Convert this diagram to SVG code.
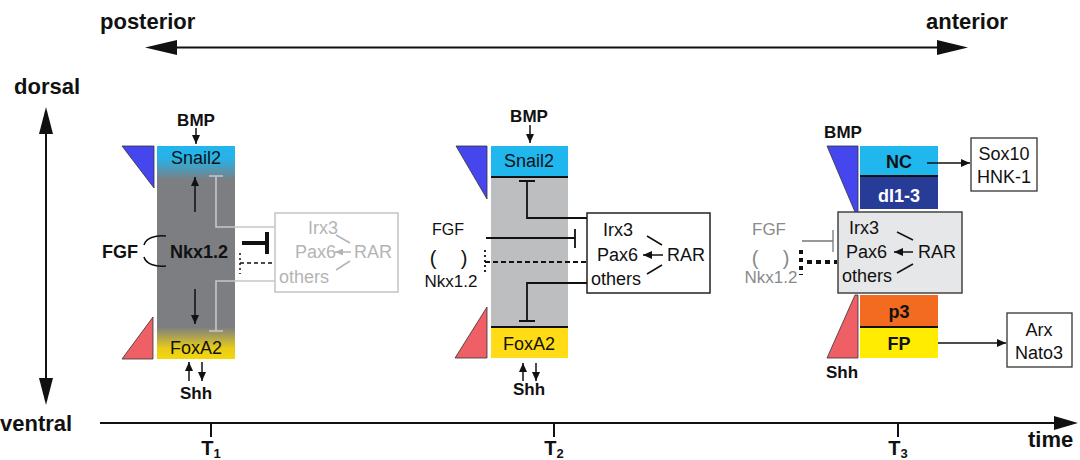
<svg xmlns="http://www.w3.org/2000/svg" width="1080" height="460" viewBox="0 0 1080 460">
<style>
text{font-family:"Liberation Sans",Arial,sans-serif;}
.ax{font-size:22px;font-weight:bold;fill:#111;}
.b{font-size:17px;font-weight:bold;fill:#111;}
.bl{font-size:18px;font-weight:bold;fill:#111;}
.r{font-size:18px;fill:#111;}
.g{font-size:18px;fill:#b4b4b4;}
.g2{font-size:17px;fill:#8a8a8a;}
.c{text-anchor:middle;}
.ln{stroke:#111;stroke-width:1.8;fill:none;}
.lg{stroke:#c6c6c6;stroke-width:1.6;fill:none;}
.ar{stroke:#111;stroke-width:1.5;fill:none;marker-end:url(#ah);}
.arg{stroke:#b4b4b4;stroke-width:1.5;fill:none;marker-end:url(#ahg);}
.tri{stroke:#333;stroke-width:0.8;}
</style>
<defs>
<marker id="ah" markerUnits="userSpaceOnUse" markerWidth="9" markerHeight="8" refX="9" refY="4" orient="auto"><path d="M0,0 L9,4 L0,8 z" fill="#111"/></marker>
<marker id="ahg" markerUnits="userSpaceOnUse" markerWidth="8" markerHeight="7" refX="8" refY="3.5" orient="auto"><path d="M0,0 L8,3.5 L0,7 z" fill="#b4b4b4"/></marker>
<linearGradient id="lg1" x1="0" y1="0" x2="0" y2="1">
<stop offset="0" stop-color="#22b6ee"/>
<stop offset="0.06" stop-color="#27b2e6"/>
<stop offset="0.16" stop-color="#7c7e82"/>
<stop offset="0.85" stop-color="#7c7e82"/>
<stop offset="0.95" stop-color="#e8cc18"/>
<stop offset="1" stop-color="#f4d60c"/>
</linearGradient>
</defs>

<g id="axes">
<text class="ax" x="100" y="29">posterior</text>
<text class="ax" x="926" y="29">anterior</text>
<line x1="175" y1="47.5" x2="940" y2="47.5" stroke="#111" stroke-width="2"/>
<polygon points="145,47.5 177,40 177,55" fill="#111"/>
<polygon points="968,47.5 937,40 937,55" fill="#111"/>
<text class="ax" x="14" y="94">dorsal</text>
<line x1="46" y1="130" x2="46" y2="383" stroke="#111" stroke-width="2"/>
<polygon points="46,107 39,134 53,134" fill="#111"/>
<polygon points="46,405 39,378 53,378" fill="#111"/>
<text class="ax" x="0" y="431">ventral</text>
<line x1="100" y1="423" x2="1058" y2="423" stroke="#111" stroke-width="2"/>
<polygon points="1078,423 1054,416 1054,430" fill="#111"/>
<line x1="211" y1="423" x2="211" y2="437" stroke="#111" stroke-width="2"/>
<line x1="554" y1="423" x2="554" y2="437" stroke="#111" stroke-width="2"/>
<line x1="898" y1="423" x2="898" y2="437" stroke="#111" stroke-width="2"/>
<text class="ax c" x="211" y="455" style="font-size:20px">T<tspan font-size="13" dy="3">1</tspan></text>
<text class="ax c" x="554" y="455" style="font-size:20px">T<tspan font-size="13" dy="3">2</tspan></text>
<text class="ax c" x="898" y="455" style="font-size:20px">T<tspan font-size="13" dy="3">3</tspan></text>
<text class="ax" x="1028" y="447">time</text>
</g>

<g id="panel-T1">
<text class="b c" x="196" y="126">BMP</text>
<polygon class="tri" points="122,146 154,146 154,188" fill="#4646ee"/>
<polygon class="tri" points="122,359 153,359 153,317" fill="#ef5f66"/>
<rect x="157" y="146" width="78" height="213" fill="url(#lg1)"/>
<text class="r c" x="196" y="164" fill="#1c2a38">Snail2</text>
<text class="r c" x="196" y="354">FoxA2</text>
<text class="bl c" x="199" y="258">Nkx1.2</text>
<text class="bl c" x="120" y="258">FGF</text>
<path d="M144,245 C146,238 155,235 166,236 M144,257 C146,264 155,267 166,266" stroke="#111" stroke-width="1.6" fill="none"/>
<text class="b c" x="196" y="399">Shh</text>
</g>

<g id="box-T1">
<rect x="275" y="213" width="123" height="79" fill="none" stroke="#c3c3c3" stroke-width="1.5"/>
<text class="g" x="308" y="234">Irx3</text>
<text class="g" x="295" y="258">Pax6</text>
<text class="g" x="279" y="283">others</text>
<text class="g" x="354" y="258">RAR</text>
</g>

<g id="panel-T2">
<text class="b c" x="529" y="122">BMP</text>
<polygon class="tri" points="456,146 487,146 487,199" fill="#4646ee"/>
<polygon class="tri" points="455,358 487,358 487,307" fill="#ef5f66"/>
<rect x="491" y="146" width="77" height="31" fill="#20b6ee"/>
<rect x="491" y="177" width="77" height="150" fill="#bdbec0"/>
<rect x="491" y="327" width="77" height="31" fill="#ffdc16"/>
<line x1="491" y1="177" x2="568" y2="177" stroke="#111" stroke-width="2"/>
<line x1="491" y1="327" x2="568" y2="327" stroke="#111" stroke-width="2"/>
<text class="r c" x="529" y="167">Snail2</text>
<text class="r c" x="529" y="350">FoxA2</text>
<text class="r c" x="448" y="235" style="font-size:16px">FGF</text>
<text class="r c" x="433" y="265" style="font-size:20px">(</text>
<text class="r c" x="464" y="265" style="font-size:20px">)</text>
<text class="r c" x="451" y="287" style="font-size:17px">Nkx1.2</text>
<text class="b c" x="529" y="395">Shh</text>
</g>

<g id="box-T2">
<rect x="587" y="213" width="123" height="80" fill="#fff" stroke="#222" stroke-width="1.5"/>
<text class="r" x="603" y="236">Irx3</text>
<text class="r" x="597" y="261">Pax6</text>
<text class="r" x="591" y="285">others</text>
<text class="r" x="667" y="261">RAR</text>
</g>

<g id="panel-T3">
<text class="b c" x="843" y="138">BMP</text>
<polygon class="tri" points="827,146 858,146 858,212 855,212" fill="#4646ee"/>
<polygon class="tri" points="855,295 858,295 858,358 827,358" fill="#ef5f66"/>
<rect x="860" y="146" width="78" height="30" fill="#20b6ee"/>
<rect x="860" y="176" width="78" height="33" fill="#263c96"/>
<line x1="860" y1="176" x2="938" y2="176" stroke="#111" stroke-width="2"/>
<rect x="860" y="295" width="78" height="32" fill="#f26b21"/>
<rect x="860" y="327" width="78" height="31" fill="#ffec00"/>
<line x1="860" y1="327" x2="938" y2="327" stroke="#111" stroke-width="2"/>
<text class="bl c" x="899" y="168">NC</text>
<text class="bl c" x="899" y="202" style="fill:#fff">dI1-3</text>
<text class="bl c" x="899" y="318">p3</text>
<text class="bl c" x="899" y="350">FP</text>
<text class="g2 c" x="769" y="235">FGF</text>
<text class="g2 c" x="755" y="265" style="font-size:20px">(</text>
<text class="g2 c" x="786" y="265" style="font-size:20px">)</text>
<text class="g2 c" x="771" y="283">Nkx1.2</text>
<text class="b c" x="842" y="378">Shh</text>
</g>

<g id="box-T3">
<rect x="838" y="212" width="124" height="81" fill="#e6e7e8" stroke="#444" stroke-width="1.5"/>
<text class="r" x="849" y="234">Irx3</text>
<text class="r" x="846" y="258">Pax6</text>
<text class="r" x="842" y="282">others</text>
<text class="r" x="918" y="258">RAR</text>
</g>

<g id="sox10">
<rect x="971" y="138" width="66" height="53" fill="#fff" stroke="#333" stroke-width="1.3"/>
<text class="r c" x="1004" y="160">Sox10</text>
<text class="r c" x="1004" y="183">HNK-1</text>
</g>

<g id="arx">
<rect x="1007" y="313" width="65" height="54" fill="#fff" stroke="#333" stroke-width="1.3"/>
<text class="r c" x="1039" y="336">Arx</text>
<text class="r c" x="1039" y="359">Nato3</text>
</g>

<g id="connectors">
<line class="ar" x1="196" y1="128" x2="196" y2="144"/>
<line class="ar" x1="195" y1="212" x2="195" y2="177"/>
<line class="ar" x1="195" y1="289" x2="195" y2="324"/>
<line class="ar" x1="189" y1="381" x2="189" y2="362"/>
<line class="ar" x1="202" y1="362" x2="202" y2="381"/>
<path class="lg" d="M209,176 H223 M216,176 V227 H275 M275,281 H216 V331 M209,331 H223"/>
<path d="M242,243 H267 M267,232 V254" stroke="#111" stroke-width="4" fill="none"/>
<line x1="240" y1="253" x2="240" y2="274" stroke="#111" stroke-width="1.5" stroke-dasharray="2,3"/>
<line x1="240" y1="263" x2="274" y2="263" stroke="#111" stroke-width="1.5" stroke-dasharray="4,3"/>
<line x1="350" y1="243" x2="336" y2="235" stroke="#b4b4b4" stroke-width="1.5"/>
<line class="arg" x1="351" y1="252" x2="335" y2="252"/>
<line x1="350" y1="261" x2="336" y2="270" stroke="#b4b4b4" stroke-width="1.5"/>
<line class="ar" x1="530" y1="125" x2="530" y2="143"/>
<line class="ar" x1="523" y1="381" x2="523" y2="363"/>
<line class="ar" x1="536" y1="363" x2="536" y2="381"/>
<path class="ln" d="M519,181 H535 M527,181 V218 H587 M587,283 H527 V321 M519,321 H535"/>
<path class="ln" d="M486,238 H575 M575,229 V248"/>
<line x1="485" y1="250" x2="485" y2="273" stroke="#111" stroke-width="1.8" stroke-dasharray="2,3"/>
<line x1="485" y1="262" x2="587" y2="262" stroke="#111" stroke-width="1.8" stroke-dasharray="5,3"/>
<line x1="662" y1="245" x2="647" y2="236" stroke="#111" stroke-width="1.5"/>
<line class="ar" x1="663" y1="255" x2="643" y2="255"/>
<line x1="662" y1="265" x2="647" y2="274" stroke="#111" stroke-width="1.5"/>
<path d="M802,241 H833 M833,230 V252" stroke="#777" stroke-width="1.3" fill="none"/>
<line x1="801" y1="250" x2="801" y2="275" stroke="#111" stroke-width="4" stroke-dasharray="4,4"/>
<line x1="807" y1="262" x2="837" y2="262" stroke="#111" stroke-width="4" stroke-dasharray="5,4"/>
<line x1="913" y1="240" x2="897" y2="232" stroke="#111" stroke-width="1.5"/>
<line class="ar" x1="913" y1="252" x2="894" y2="252"/>
<line x1="913" y1="264" x2="897" y2="273" stroke="#111" stroke-width="1.5"/>
<line class="ar" x1="927" y1="163" x2="970" y2="163"/>
<line class="ar" x1="938" y1="343" x2="1006" y2="343"/>
</g>
</svg>
